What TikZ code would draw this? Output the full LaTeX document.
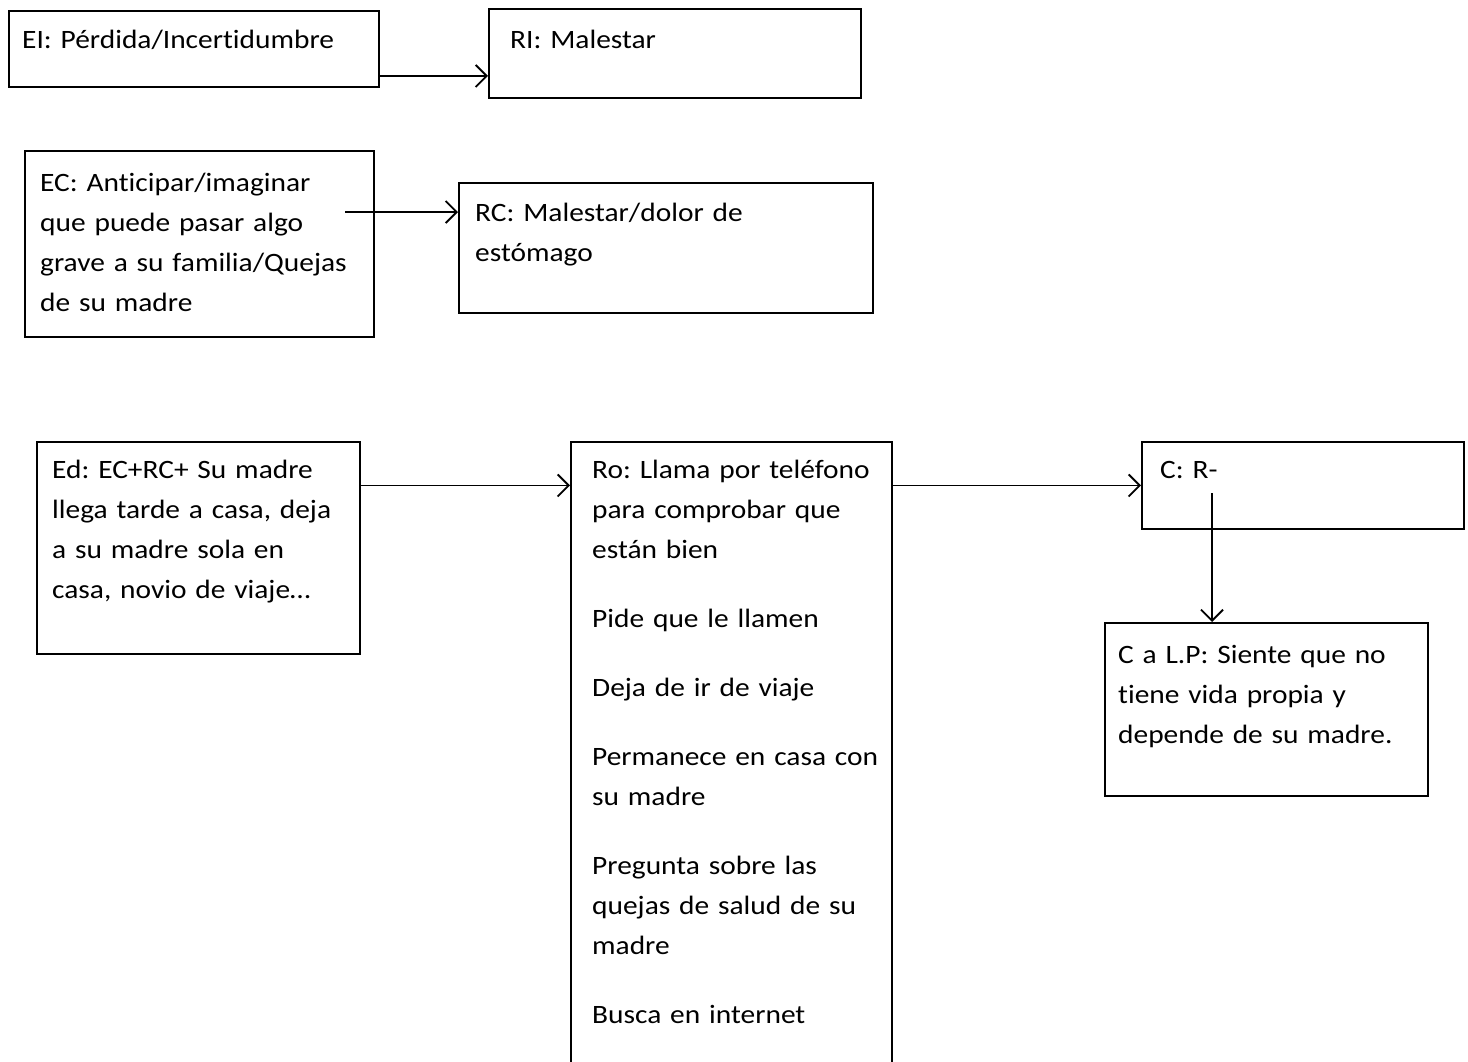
\documentclass[tikz,border=0pt]{standalone}
\usepackage{fontspec}
\setmainfont[FakeStretch=1.11, Ligatures=NoCommon]{Carlito}
\usetikzlibrary{arrows.meta}
\frenchspacing
\begin{document}
\begin{tikzpicture}[x=1pt,y=-1pt,
  box/.style={draw, line width=1.9pt, rectangle, inner sep=0pt, anchor=north west},
  txt/.style={anchor=north west, inner sep=0pt, align=left, text width=#1, font=\fontsize{26.5}{40}\selectfont},
  arr/.style={line width=1.9pt, -{Straight Barb[length=11pt,width=22pt,line width=1.9pt]}}]
\clip (0,0) rectangle (1468,1061);
\fill[white] (0,0) rectangle (1468,1061);
% boxes
\node[box, minimum width=370pt, minimum height=76pt] (EI) at (8,10) {};
\node[box, minimum width=372pt, minimum height=89pt] (RI) at (488,8) {};
\node[box, minimum width=349pt, minimum height=186pt] (EC) at (24,150) {};
\node[box, minimum width=414pt, minimum height=130pt] (RC) at (458,182) {};
\node[box, minimum width=323pt, minimum height=212pt] (Ed) at (36,441) {};
\node[box, minimum width=321pt, minimum height=700pt] (Ro) at (570,441) {};
\node[box, minimum width=322pt, minimum height=87pt] (C) at (1141,441) {};
\node[box, minimum width=323pt, minimum height=173pt] (CLP) at (1104,622) {};
% texts
\node[txt=350pt] (tEI) at (22,20) {\strut EI: Pérdida/Incertidumbre};
\node[txt=340pt] (tRI) at (510,20) {\strut RI: Malestar};
\node[txt=340pt] (tEC) at (40,163) {\strut EC: Anticipar/imaginar\\que puede pasar algo\\grave a su familia/Quejas\\de su madre};
\node[txt=390pt] (tRC) at (475,193) {\strut RC: Malestar/dolor de\\estómago};
\node[txt=310pt] (tEd) at (52,450) {\strut Ed: EC+RC+ Su madre\\llega tarde a casa, deja\\a su madre sola en\\casa, novio de viaje…};
\node[txt=300pt] (tRo) at (592,450) {\strut Ro: Llama por teléfono\\para comprobar que\\están bien\\[29pt]Pide que le llamen\\[29pt]Deja de ir de viaje\\[29pt]Permanece en casa con\\su madre\\[29pt]Pregunta sobre las\\quejas de salud de su\\madre\\[29pt]Busca en internet};
\node[txt=300pt] (tC) at (1160,450) {\strut C: R-};
\node[txt=310pt] (tCLP) at (1118,635) {\strut C a L.P: Siente que no\\tiene vida propia y\\depende de su madre.};
% connectors
\coordinate (a1) at ([yshift=-27pt]EI.east);
\draw[arr] (a1) -- (a1 -| RI.west);
\coordinate (a2) at (345,212);
\draw[arr] (a2) -- (a2 -| RC.west);
\draw[arr] (Ed.east |- C.west) -- (Ro.west |- C.west);
\draw[arr] (Ro.east |- C.west) -- (C.west);
\coordinate (a3) at (1212,493);
\draw[arr] (a3) -- (a3 |- CLP.north);
\end{tikzpicture}
\end{document}
